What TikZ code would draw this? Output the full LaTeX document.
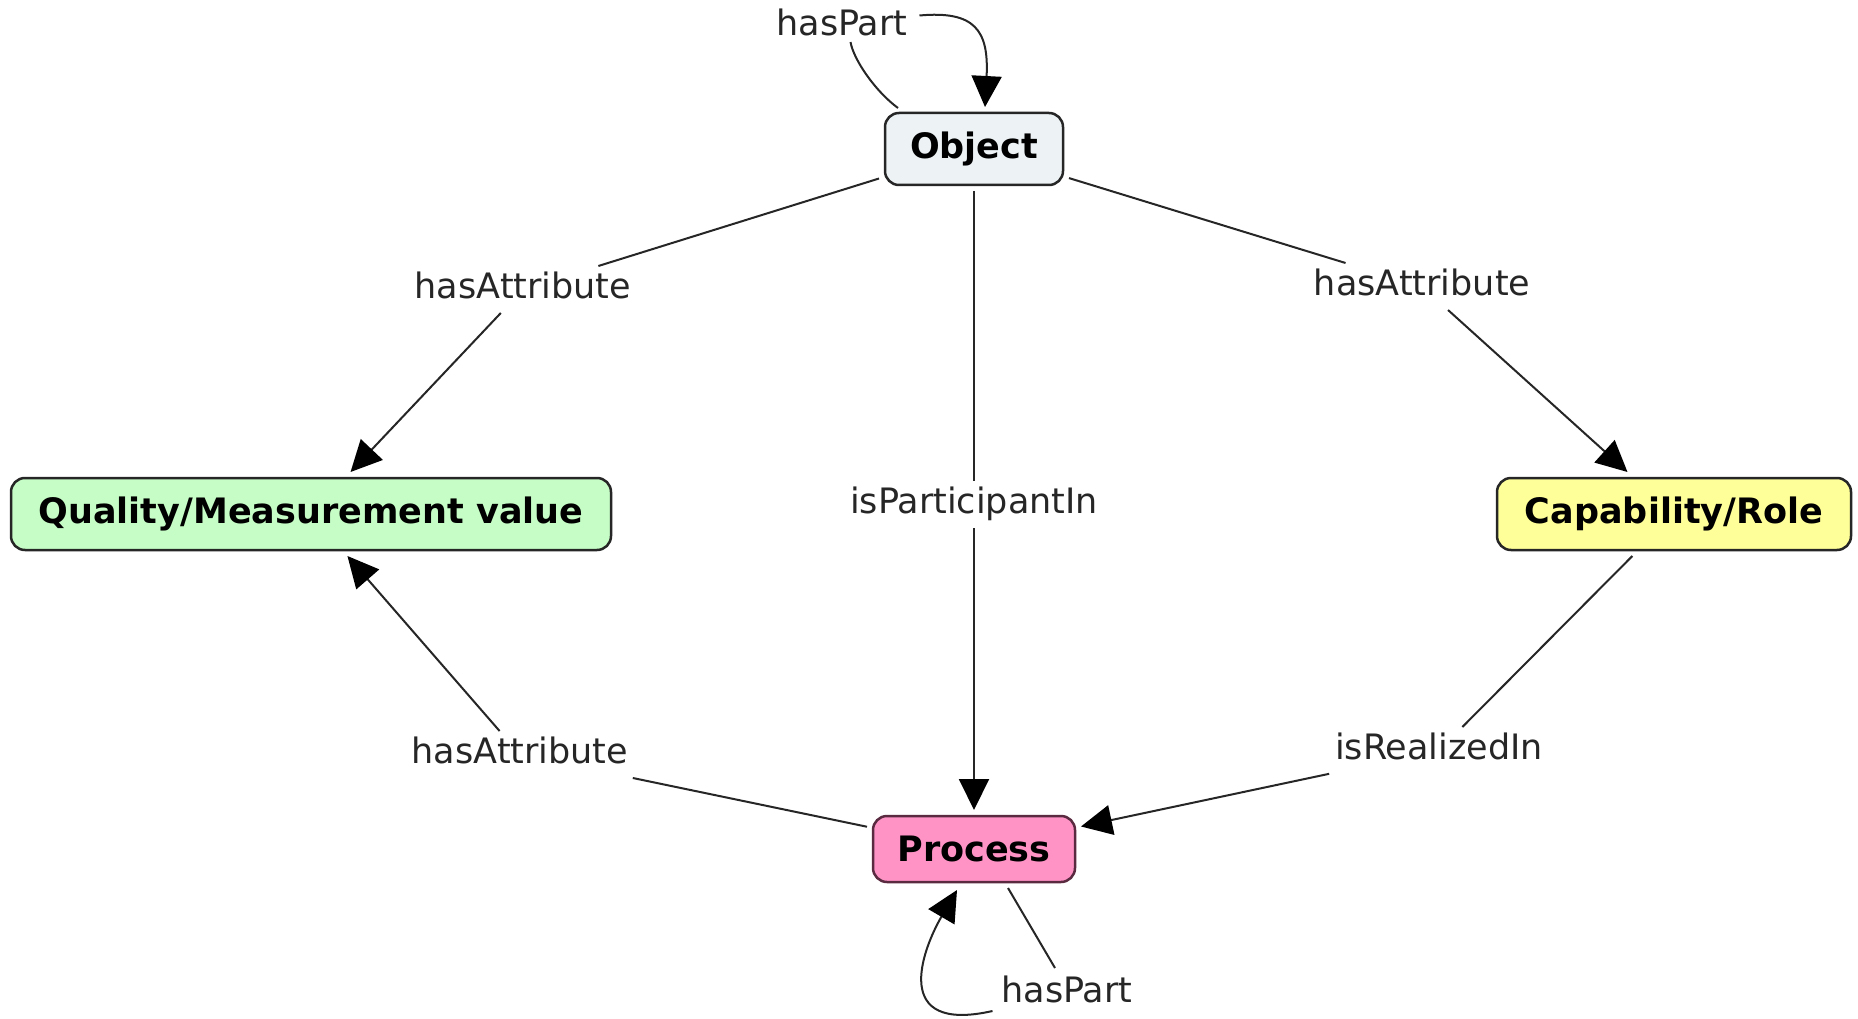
\documentclass[tikz,border=0pt]{standalone}
\usepackage{fontspec}
\setmainfont{DejaVu Sans}
\usetikzlibrary{arrows.meta}

\definecolor{objfill}{HTML}{EDF3F5}
\definecolor{qualfill}{HTML}{C6FDC6}
\definecolor{capfill}{HTML}{FFFF99}
\definecolor{procfill}{HTML}{FF93C6}
\definecolor{procedge}{HTML}{5A2A40}
\definecolor{edgegray}{HTML}{262626}

\tikzset{
  concept/.style={draw=edgegray, line width=2.5pt, rounded corners=14pt,
    font=\fontsize{35}{42}\selectfont\bfseries, inner sep=0pt,
    minimum height=72pt, outer sep=6pt},
  linklabel/.style={font=\fontsize{35}{42}\selectfont, text=black!85,
    text height=26pt, text depth=9pt, inner xsep=6pt, inner ysep=6pt,
    outer sep=0pt, anchor=base},
  conn/.style={draw=edgegray, line width=2pt},
  arr/.style={conn, -{Triangle[length=31pt,width=30pt,fill=black,color=black]}}
}

\begin{document}
\begin{tikzpicture}[x=1pt,y=-1pt]
\useasboundingbox (0,0) rectangle (1858,1019);

% concepts
\node[concept, fill=objfill, minimum width=178pt] (obj) at (974,149) {Object};
\node[concept, fill=qualfill, minimum width=600pt] (qual) at (311,514) {Quality/Measurement value};
\node[concept, fill=capfill, minimum width=354pt] (cap) at (1674,514) {Capability/Role};
\node[concept, fill=procfill, draw=procedge, minimum width=202pt, minimum height=66pt] (proc) at (974,849) {Process};

% linking phrases
\node[linklabel] (tp) at (842,36) {hasPart};
\node[linklabel] (lqa) at (523,298) {hasAttribute};
\node[linklabel] (lca) at (1422,295) {hasAttribute};
\node[linklabel] (lpi) at (974,513) {isParticipantIn};
\node[linklabel] (lpq) at (520,763) {hasAttribute};
\node[linklabel] (lri) at (1439,759) {isRealizedIn};
\node[linklabel] (bp) at (1067,1002) {hasPart};

% Object relations
\draw[conn] (obj) -- (lqa);
\draw[arr] (lqa) -- (qual);
\draw[conn] (obj) -- (lca);
\draw[arr] (lca) -- (cap);
\draw[conn] (obj) -- (lpi);
\draw[arr] (lpi) -- (proc);

% Process and Capability relations
\draw[conn] (proc) -- (lpq);
\draw[arr] (lpq) -- (qual);
\draw[conn] (cap) -- (lri);
\draw[arr] (lri) -- (proc);

% Object hasPart loop
\draw[conn] ([shift={(19,1)}]obj.north west)
  .. controls +(-22,-16) and +(3,18) .. ([shift={(80,-9)}]tp.south west);
\draw[arr] ([shift={(6,-12)}]tp.east)
  .. controls +(55,-5) and +(4,-77) .. ([shift={(11,0)}]obj.north);

% Process hasPart loop
\draw[conn] ([shift={(34,0)}]proc.south) -- ([shift={(-12,-2)}]bp.north);
\draw[arr] ([shift={(-3,17.5)}]bp.west)
  .. controls +(-102,23) and +(-35,60) .. ([shift={(-17,2)}]proc.south);
\end{tikzpicture}
\end{document}
